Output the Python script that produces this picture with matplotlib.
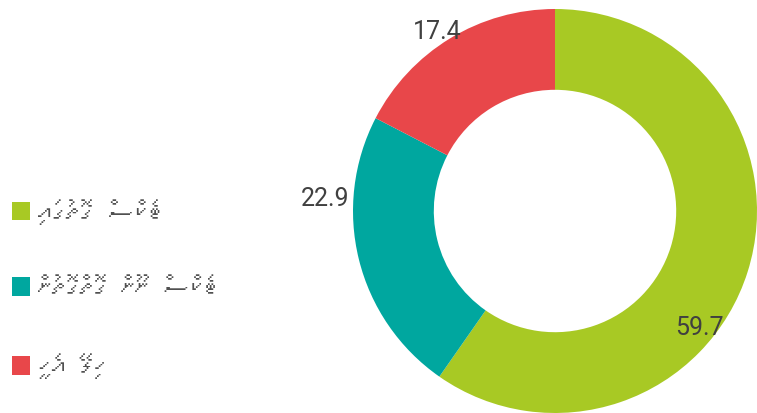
import matplotlib
matplotlib.use("Agg")
import matplotlib.pyplot as plt
from matplotlib import font_manager
from matplotlib.ft2font import FT2Font
from matplotlib.patches import Patch
import numpy as np

# 数据
labels = ["ޓެކްސް ގޮތުގައި", "ޓެކްސް ނޫން ގޮތްގޮތުން", "ހިލޭ އެހީ"]
values = [59.7, 22.9, 17.4]
colors = ["#A8C924", "#00A79F", "#E8474A"]

# 标签摆放（半径, 相对扇区中线的角度偏移）
label_r = [0.915, 1.14, 1.065]
label_dang = [-21.3, -17.2, 1.9]


def find_thaana_font():
    for f in font_manager.fontManager.ttflist:
        try:
            if 0x078C in FT2Font(f.fname).get_charmap():
                return f.name
        except Exception:
            pass
    return None


def visual_rtl(s):
    # matplotlib没有bidi：整串倒序（RTL字体的附标放在基字左侧起笔）
    return s[::-1]


thaana = find_thaana_font()
leg_family = [thaana, "DejaVu Sans"] if thaana else ["DejaVu Sans"]
num_family = ["Liberation Sans Narrow", "Roboto", "DejaVu Sans"]

fig = plt.figure(figsize=(7.57, 4.14), dpi=100)
ax = fig.add_axes([353 / 757, 0, 404 / 757, 404 / 414])
wedges, _ = ax.pie(values, colors=colors, startangle=90, counterclock=False,
                   radius=1.0, wedgeprops=dict(width=0.4, linewidth=0))
ax.set_xlim(-1, 1)
ax.set_ylim(-1, 1)
ax.set_aspect("equal")
ax.axis("off")

for w, v, r, da in zip(wedges, values, label_r, label_dang):
    mid = np.deg2rad((w.theta1 + w.theta2) / 2 + da)
    ax.text(r * np.cos(mid), r * np.sin(mid), f"{v:.1f}", ha="center", va="center",
            fontsize=18, color="#404040", family=num_family, clip_on=False)

fs = 20
px = fs * 100 / 72
handles = [Patch(facecolor=c, edgecolor="none") for c in colors]
fig.legend(handles, [visual_rtl(l) for l in labels], loc="center left",
           bbox_to_anchor=(12 / 757, 0.302), frameon=False,
           prop=dict(family=leg_family, size=fs), labelcolor="#505050",
           handlelength=18 / px, handleheight=18 / px, handletextpad=8 / px,
           labelspacing=1.91, borderpad=0, borderaxespad=0)

fig.savefig("out.png", dpi=100)
